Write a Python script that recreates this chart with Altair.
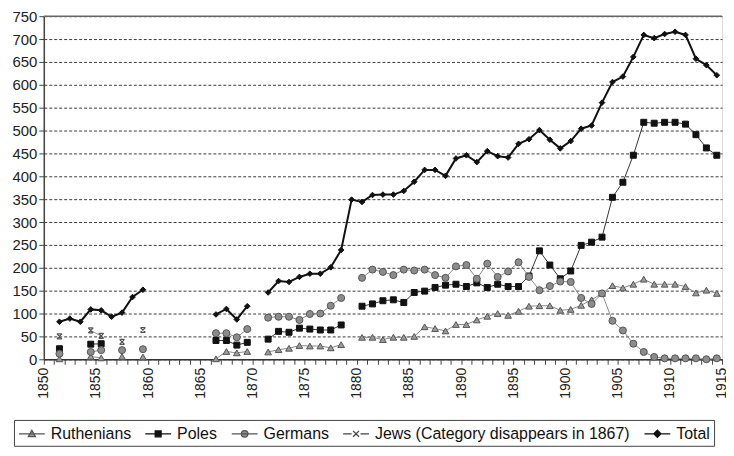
import altair as alt
import pandas as pd

series_names = ["Ruthenians", "Poles", "Germans", "Jews (Category disappears in 1867)", "Total"]

ruth_years = [1851, 1854, 1855, 1857, 1859] + list(range(1866, 1870)) + list(range(1871, 1879)) + list(range(1880, 1915))
ruth_values = [1, 6, 3, 6, 5,
               1, 17, 14, 17,
               16, 21, 24, 30, 29, 29, 25, 32,
               48, 48, 43, 48, 48, 50, 71, 67, 62, 76, 76, 86, 94, 100, 96, 105, 116, 117, 117, 107,
               109, 118, 130, 144, 161, 156, 164, 175, 164, 164, 164, 159, 145, 151, 144]

poles_years = [1851, 1854, 1855] + list(range(1866, 1870)) + list(range(1871, 1879)) + list(range(1880, 1915))
poles_values = [23, 33, 34,
                41, 41, 31, 37,
                44, 61, 59, 68, 66, 64, 64, 75,
                116, 121, 128, 130, 124, 146, 149, 157, 162, 164, 159, 167, 157, 164, 159, 159, 182, 237, 206, 176,
                193, 249, 256, 267, 354, 387, 446, 518, 516, 518, 518, 514, 491, 462, 446]

germ_years = [1851, 1854, 1855, 1857, 1859] + list(range(1866, 1870)) + list(range(1871, 1879)) + list(range(1880, 1915))
germ_values = [12, 16, 20, 20, 22,
               57, 57, 48, 66,
               91, 93, 93, 86, 99, 100, 117, 134,
               178, 196, 191, 184, 196, 194, 196, 184, 178, 203, 206, 176, 209, 180, 192, 212, 180, 151, 160, 170,
               169, 134, 121, 144, 84, 63, 34, 16, 5, 2, 2, 2, 2, 0, 2]

jews_years = [1851, 1854, 1855, 1857, 1859]
jews_values = [50, 63, 51, 38, 64]

total_years = list(range(1851, 1860)) + list(range(1866, 1870)) + list(range(1871, 1915))
total_values = [82, 89, 82, 109, 107, 93, 102, 136, 152,
                98, 110, 87, 116,
                146, 171, 169, 180, 187, 187, 201, 239, 349, 344, 359, 360, 360, 368, 388, 414, 414, 401,
                439, 446, 431, 455, 444, 441, 471, 481, 501, 480, 461, 477, 504, 511, 561, 606, 618, 661,
                709, 702, 711, 716, 709, 657, 643, 621]

y_ticks = list(range(0, 751, 50))
x_ticks = [1849.5 + k for k in range(66)]
top_value = [750]

series_data = [
    (series_names[0], ruth_years, ruth_values),
    (series_names[1], poles_years, poles_values),
    (series_names[2], germ_years, germ_values),
    (series_names[3], jews_years, jews_values),
    (series_names[4], total_years, total_values),
]

rows = []
for name, yrs, vals in series_data:
    seg = 0
    prev = None
    for yr, v in zip(yrs, vals):
        if prev is not None and yr != prev + 1:
            seg += 1
        rows.append({"series": name, "year": yr, "value": v, "seg": f"{name}-{seg}"})
        prev = yr
df = pd.DataFrame(rows)

X_PATH = "M-0.8,-0.8H0.8M-0.8,0.8H0.8M-0.8,-0.8L0.8,0.8M-0.8,0.8L0.8,-0.8"
styles = {
    series_names[0]: dict(lc="#8a8a8a", lw=1, shape="triangle-up", fill="#9a9a9a", stroke="#555555", size=45, filled=True),
    series_names[1]: dict(lc="#333333", lw=1, shape="square", fill="#111111", stroke="#111111", size=36, filled=True),
    series_names[2]: dict(lc="#8a8a8a", lw=1, shape="circle", fill="#8c8c8c", stroke="#555555", size=50, filled=True),
    series_names[3]: dict(lc="#9a9a9a", lw=1, shape=X_PATH, fill="none", stroke="#555555", size=40, filled=False),
    series_names[4]: dict(lc="#111111", lw=2, shape="diamond", fill="#111111", stroke="#111111", size=32, filled=True),
}

font = "Liberation Sans"

x_scale = alt.Scale(domain=[1849.5, 1914.5], nice=False, zero=False)
y_scale = alt.Scale(domain=[0, 750], nice=False)
x_axis = alt.Axis(values=x_ticks, title=None, grid=False, labelAngle=270,
                  labelExpr="(datum.value + 0.5) % 5 == 0 ? format(datum.value + 0.5, 'd') : ''",
                  labelFontSize=14, labelFont=font, labelColor="#222222", labelOverlap=False,
                  tickSize=5, tickColor="#444444", domainColor="#333333", domainWidth=1.5,
                  labelPadding=3)
y_axis = alt.Axis(values=y_ticks, title=None, grid=True, gridDash=[3, 2], gridColor="#3a3a3a",
                  gridWidth=1, labelFontSize=15, labelFont=font, labelColor="#222222",
                  tickSize=5, tickColor="#444444", domainColor="#444444", domainWidth=1.5,
                  labelPadding=2, labelOverlap=False)

base = alt.Chart(df).encode(
    x=alt.X("year:Q", scale=x_scale, axis=x_axis),
    y=alt.Y("value:Q", scale=y_scale, axis=y_axis),
)

layers = []
for name in series_names:
    st = styles[name]
    sub = base.transform_filter(alt.datum.series == name)
    layers.append(sub.mark_line(color=st["lc"], strokeWidth=st["lw"]).encode(detail="seg:N"))
    if st["filled"]:
        layers.append(sub.mark_point(shape=st["shape"], filled=True, fill=st["fill"], stroke=st["stroke"],
                                     strokeWidth=1, size=st["size"], opacity=1))
    else:
        layers.append(sub.mark_point(shape=st["shape"], filled=False, stroke=st["stroke"],
                                     strokeWidth=1.2, size=st["size"], opacity=1))

top_rule = alt.Chart(pd.DataFrame({"v": top_value})).mark_rule(color="#666666", strokeWidth=1.5).encode(
    y=alt.Y("v:Q", scale=y_scale, axis=y_axis))
layers.append(top_rule)

# legend symbols: a short line (26px) with the marker in its middle (unit = 9px)
legend_paths = [
    "M-1,0H1.89M0.444,-0.39L0.834,0.3L0.054,0.3Z",
    "M-1,0H1.89M0.114,-0.33H0.774V0.33H0.114Z",
    "M-1,0H1.89M0.074,0A0.37,0.37 0 1,0 0.814,0A0.37,0.37 0 1,0 0.074,0Z",
    "M-1,0H-0.05M0.94,0H1.89M0.114,-0.33L0.774,0.33M0.114,0.33L0.774,-0.33",
    "M-1,0H1.89M0.444,-0.4L0.844,0L0.444,0.4L0.044,0Z",
]
legend_fill = ["#9a9a9a", "#111111", "#8c8c8c", "#ffffff", "#111111"]
legend_stroke = ["#555555", "#111111", "#555555", "#444444", "#111111"]

legend_layer = base.mark_point(filled=True, opacity=0).encode(
    shape=alt.Shape("series:N", scale=alt.Scale(domain=series_names, range=legend_paths),
                    legend=alt.Legend(title=None, orient="none", legendX=-30, legendY=406,
                                      direction="horizontal", columns=5,
                                      symbolSize=324, symbolStrokeWidth=1.3, symbolOpacity=1,
                                      labelFontSize=16, labelFont=font, labelColor="#111111",
                                      labelOffset=13, columnPadding=11, labelLimit=400,
                                      strokeColor="#444444", fillColor="#ffffff", padding=4)),
    fill=alt.Fill("series:N", scale=alt.Scale(domain=series_names, range=legend_fill)),
    stroke=alt.Stroke("series:N", scale=alt.Scale(domain=series_names, range=legend_stroke)),
)
layers.append(legend_layer)

chart = alt.layer(*layers).properties(
    width=682, height=345,
    autosize=alt.AutoSizeParams(type="none"),
    padding={"left": 36, "top": 7, "right": 4, "bottom": 88},
).configure_view(stroke=None).configure(background="#ffffff")

chart.save("out.html", embed_options={"renderer": "svg", "actions": False})
